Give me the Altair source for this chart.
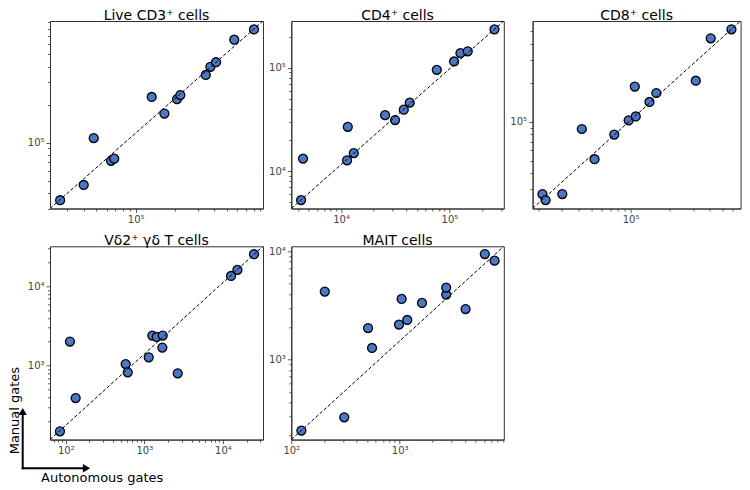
import math
import altair as alt
import pandas as pd

# ---------------- data ----------------
titles = ["Live CD3⁺ cells", "CD4⁺ cells", "CD8⁺ cells", "Vδ2⁺ γδ T cells", "MAIT cells"]

cd3_auto = [26400, 40000, 47700, 64700, 68500, 132500, 165700, 207000, 219500, 343600, 372600, 411600, 567700, 803600]
cd3_manual = [34900, 46100, 108400, 71600, 74500, 230000, 169800, 221000, 238200, 343500, 399000, 433600, 654400, 789000]

cd4_auto = [4277, 4457, 11360, 11530, 13100, 25470, 31480, 37870, 43020, 76380, 110300, 126200, 147400, 260000]
cd4_manual = [5250, 13220, 12740, 26840, 14930, 34760, 31200, 39260, 45920, 95300, 114800, 138100, 144000, 234600]

cd8_auto = [21270, 22490, 30140, 42480, 53100, 75100, 96630, 109500, 107700, 139300, 157100, 314300, 408400, 587500]
cd8_manual = [27660, 24830, 27660, 87780, 51300, 79600, 102400, 109700, 186700, 141900, 166400, 206900, 439600, 516000]

vd2_auto = [84.3, 113, 133.6, 579, 615, 1138, 1264, 1439, 1715, 1695, 2661, 12700, 15300, 24900]
vd2_manual = [148.4, 2010, 390, 1047, 824, 1273, 2390, 2296, 2390, 1687, 800, 13490, 16070, 25350]

mait_auto = [123.9, 203.6, 308, 511, 556, 986, 1043, 1175, 1606, 2688, 2688, 4055, 6107, 7510]
mait_manual = [221.7, 4236, 294, 1954, 1279, 2102, 3622, 2317, 3327, 3973, 4609, 2925, 9400, 8165]

autos = [cd3_auto, cd4_auto, cd8_auto, vd2_auto, mait_auto]
manuals = [cd3_manual, cd4_manual, cd8_manual, vd2_manual, mait_manual]

x_domains = [(22080, 942000), (3475, 317000), (17900, 690000), (63, 32400), (100, 9140)]
y_domains = [(30000, 920500), (4355, 282500), (21380, 598000), (116.7, 31900), (183, 11070)]

axis_labels = ["Manual gates", "Autonomous gates"]

# ---------------- styling ----------------
FILL = "#4b78c6"
FRAME = "#333333"
FONT = "DejaVu Sans"
widths = [213, 212.5, 208, 213, 212.5]
heights = [187.5, 187.5, 187.5, 193.3, 193.3]

IS_MAJOR = "abs(log(datum.value)/LN10 - round(log(datum.value)/LN10)) < 0.001"
SUP = "['⁰','¹','²','³','⁴','⁵','⁶','⁷','⁸','⁹']"
LABEL = f"({IS_MAJOR}) ? '10' + {SUP}[round(log(datum.value)/LN10)] : ''"


def log_ticks(lo, hi):
    out = []
    for k in range(math.floor(math.log10(lo)), math.ceil(math.log10(hi)) + 1):
        for m in range(1, 10):
            v = m * 10 ** k
            if lo <= v <= hi:
                out.append(v)
    return out


def make_axis(lo, hi):
    return alt.Axis(
        values=log_ticks(lo, hi), labelExpr=LABEL, title=None, grid=False,
        tickSize={"condition": {"test": IS_MAJOR, "value": 4}, "value": 2.5},
        labelFontSize={"condition": {"test": IS_MAJOR, "value": 10}, "value": 0},
        tickColor=FRAME, tickWidth=0.8, domainColor=FRAME, domainWidth=1,
        labelColor="#444444", labelFont=FONT, labelPadding=2,
        labelFlush=False, labelOverlap=False, minExtent=0,
    )


def panel(i, extra=None):
    df = pd.DataFrame({"auto": autos[i], "manual": manuals[i]})
    xlo, xhi = x_domains[i]
    ylo, yhi = y_domains[i]
    xenc = alt.X("auto:Q", scale=alt.Scale(type="log", domain=[xlo, xhi], nice=False),
                 axis=make_axis(xlo, xhi))
    yenc = alt.Y("manual:Q", scale=alt.Scale(type="log", domain=[ylo, yhi], nice=False),
                 axis=make_axis(ylo, yhi))
    pts = alt.Chart(df).mark_circle(
        size=80, color=FILL, opacity=1, stroke="black", strokeWidth=1.3, clip=True
    ).encode(x=xenc, y=yenc)
    diag = pd.DataFrame({"auto": [xlo, xhi], "manual": [ylo, yhi]})
    line = alt.Chart(diag).mark_line(
        color="black", strokeDash=[3.5, 2], strokeWidth=1, clip=True
    ).encode(x="auto:Q", y="manual:Q")
    layers = [pts, line] + (extra or [])
    return alt.layer(*layers).properties(
        width=widths[i], height=heights[i],
        title=alt.TitleParams(text=titles[i], fontSize=14, font=FONT, fontWeight="normal",
                              color="black", offset=-2, frame="group", anchor="middle"),
    )


one = pd.DataFrame({"k": [0]})
arrow_v = alt.Chart(one).mark_rule(color="black", strokeWidth=2).encode(
    x=alt.value(-27.3), y=alt.value(223), y2=alt.value(166))
arrow_h = alt.Chart(one).mark_rule(color="black", strokeWidth=2).encode(
    x=alt.value(-28.3), x2=alt.value(34), y=alt.value(222))
head_v = alt.Chart(one).mark_point(shape="triangle-up", filled=True, size=70, color="black",
                                   opacity=1).encode(x=alt.value(-27.3), y=alt.value(165.2))
head_h = alt.Chart(one).mark_point(shape="triangle-right", filled=True, size=70, color="black",
                                   opacity=1).encode(x=alt.value(36.5), y=alt.value(222))
txt_v = alt.Chart(one).mark_text(text=axis_labels[0], angle=270, align="center", baseline="top",
                                 fontSize=13, font=FONT, color="black").encode(
    x=alt.value(-41), y=alt.value(164.3))
txt_h = alt.Chart(one).mark_text(text=axis_labels[1], align="center", baseline="middle",
                                 fontSize=13, font=FONT, color="black").encode(
    x=alt.value(52.2), y=alt.value(231.5))

panels = [panel(0), panel(1), panel(2),
          panel(3, [arrow_v, arrow_h, head_v, head_h, txt_v, txt_h]), panel(4)]

chart = alt.concat(*panels, columns=3, spacing={"row": 37.3, "column": 28.3}, bounds="flush").properties(
    padding=0, background="white"
).configure_view(stroke=FRAME, strokeWidth=1)

chart.save("out.html", embed_options={"renderer": "svg", "actions": False})
